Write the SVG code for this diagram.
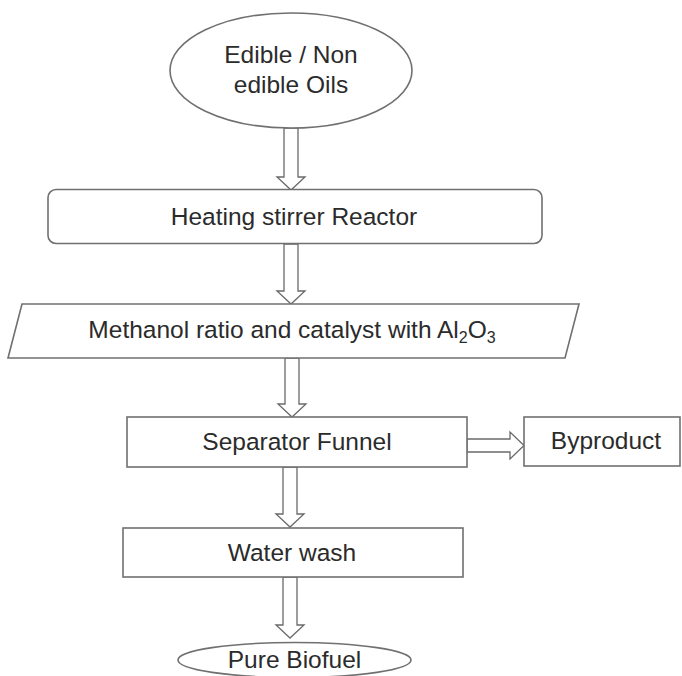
<svg xmlns="http://www.w3.org/2000/svg" width="682" height="676" viewBox="0 0 682 676">
<style>
.shape{fill:#ffffff;stroke:#707070;stroke-width:1.6}
.arrow{fill:#ffffff;stroke:#6a6a6a;stroke-width:1.3;stroke-linejoin:miter}
.lbl{font-family:"Liberation Sans",Arial,sans-serif;font-size:24.5px;fill:#2b2b2b;text-anchor:middle}
.sub{font-size:16px}
</style>
<rect x="0" y="0" width="682" height="676" fill="#ffffff"/>
<g id="connectors">
<path class="arrow" d="M284,128 L298,128 L298,177 L305,177 L291,190 L277,177 L284,177 Z"/>
<path class="arrow" d="M284,244 L298,244 L298,291 L305,291 L291,304 L277,291 L284,291 Z"/>
<path class="arrow" d="M285,358 L299,358 L299,404 L306,404 L292,417 L278,404 L285,404 Z"/>
<path class="arrow" d="M283,467 L297,467 L297,514 L304,514 L290,527 L276,514 L283,514 Z"/>
<path class="arrow" d="M283,577 L297,577 L297,625 L304,625 L290,638 L276,625 L283,625 Z"/>
<path class="arrow" d="M467,439 L510,439 L510,432 L524,445.5 L510,459 L510,452 L467,452 Z"/>
</g>
<g id="node-oils">
<ellipse class="shape" cx="291" cy="70.5" rx="121" ry="57.5"/>
<text class="lbl" x="291" y="63">Edible / Non</text>
<text class="lbl" x="291" y="93">edible Oils</text>
</g>
<g id="node-reactor">
<rect class="shape" x="48" y="189.5" width="494" height="54" rx="8" ry="8"/>
<text class="lbl" x="294" y="225">Heating stirrer Reactor</text>
</g>
<g id="node-methanol">
<polygon class="shape" points="22,304 579,304 565,358 8,358"/>
<text class="lbl" x="292" y="338">Methanol ratio and catalyst with Al<tspan class="sub" dy="5">2</tspan><tspan dy="-5">O</tspan><tspan class="sub" dy="5">3</tspan></text>
</g>
<g id="node-separator">
<rect class="shape" x="127" y="417" width="340" height="50"/>
<text class="lbl" x="297" y="450">Separator Funnel</text>
</g>
<g id="node-byproduct">
<rect class="shape" x="524" y="417" width="156" height="49"/>
<text class="lbl" x="606" y="449">Byproduct</text>
</g>
<g id="node-waterwash">
<rect class="shape" x="123" y="528" width="340" height="49"/>
<text class="lbl" x="292" y="561">Water wash</text>
</g>
<g id="node-biofuel">
<ellipse class="shape" cx="294.5" cy="660" rx="116.5" ry="17.5"/>
<text class="lbl" x="294.5" y="668">Pure Biofuel</text>
</g>
</svg>
